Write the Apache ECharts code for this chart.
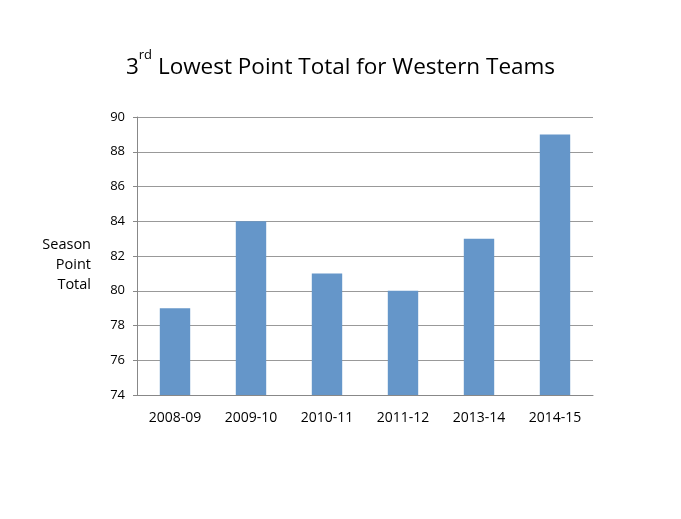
<!DOCTYPE html>
<html><head><meta charset="utf-8">
<script src="https://cdn.jsdelivr.net/npm/echarts@6/dist/echarts.min.js"></script>
<style>html,body{margin:0;padding:0;background:#fff}#c{width:681px;height:519px}</style>
</head><body><div id="c"></div>
<script>
var categories = ['2008-09','2009-10','2010-11','2011-12','2013-14','2014-15'];
var points = [79, 84, 81, 80, 83, 89];
var yTicks = {min: 74, max: 90, interval: 2};
var yAxisTitle = 'Season\nPoint\nTotal';
var chart = echarts.init(document.getElementById('c'));
chart.setOption({
  animation: false,
  backgroundColor: '#fff',
  title: {
    text: '{n|3}{s|rd}{n| Lowest Point Total for Western Teams}',
    left: 'center', top: 44,
    textStyle: {
      rich: {
        n: {fontFamily: 'Open Sans', fontSize: 22.5, fontWeight: 'normal', color: '#000', verticalAlign: 'bottom', lineHeight: 30},
        s: {fontFamily: 'Open Sans', fontSize: 13, fontWeight: 'normal', color: '#000', verticalAlign: 'top', lineHeight: 30, padding: [0,0,4,0]}
      }
    }
  },
  graphic: [{
    type: 'text', left: 'auto', x: 91, y: 265,
    style: {text: yAxisTitle, fill: '#000', font: '14.5px "Open Sans"', align: 'right', verticalAlign: 'middle', lineHeight: 20}
  }],
  grid: {left: 137, right: 88, top: 117, bottom: 124},
  xAxis: {
    type: 'category', data: categories,
    axisLine: {lineStyle: {color: '#888', width: 1}},
    axisTick: {show: false},
    axisLabel: {color: '#000', fontFamily: 'Open Sans', fontSize: 14, margin: 16}
  },
  yAxis: {
    type: 'value', min: yTicks.min, max: yTicks.max, interval: yTicks.interval,
    axisLine: {show: true, lineStyle: {color: '#888'}},
    axisTick: {show: true, length: 4, lineStyle: {color: '#888'}},
    splitLine: {lineStyle: {color: '#999', width: 1}},
    axisLabel: {color: '#000', fontFamily: 'Open Sans', fontSize: 13, margin: 12}
  },
  series: [{
    type: 'bar', data: points, barWidth: '40%',
    itemStyle: {color: '#6596c9'}
  }]
});
</script></body></html>
